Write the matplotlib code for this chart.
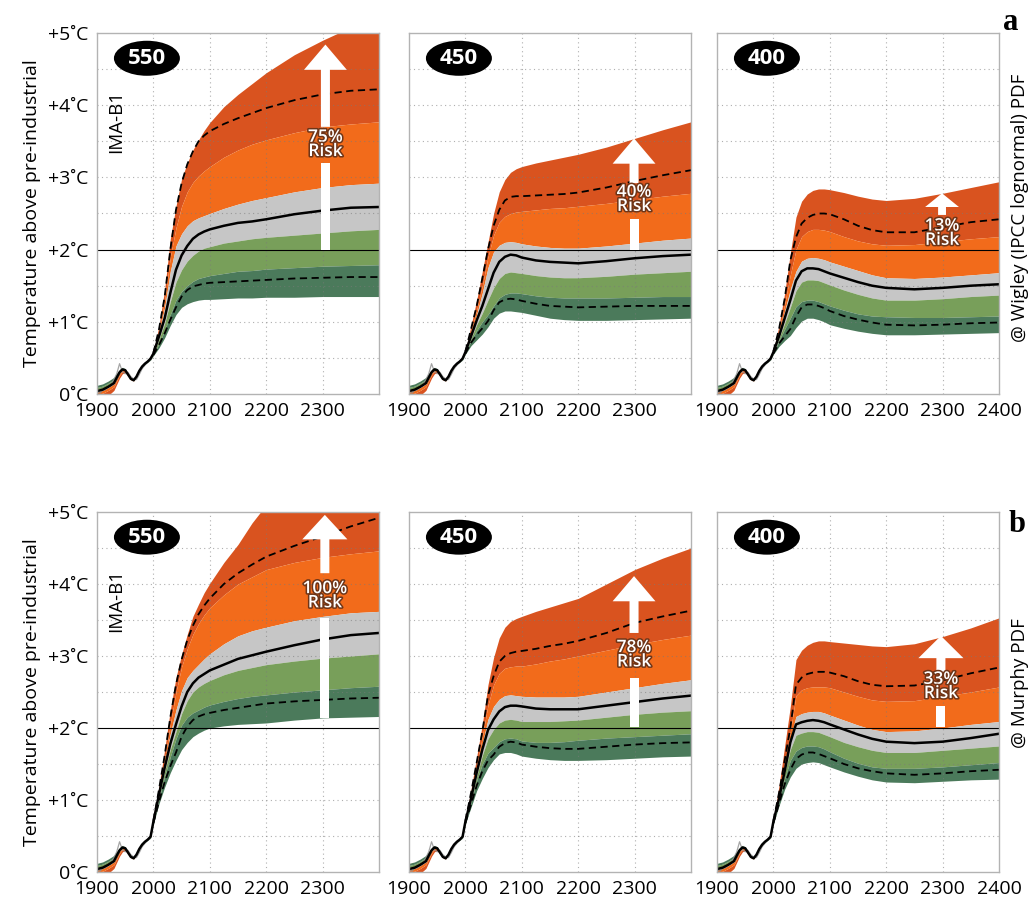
import matplotlib
matplotlib.use("Agg")
import matplotlib.pyplot as plt
import matplotlib.patheffects as pe
from matplotlib.patches import Ellipse, Polygon

# ---------------- data ----------------
HIST_YEARS = [1900, 1910, 1920, 1930, 1940, 1945, 1950, 1955, 1960, 1965, 1970, 1975, 1980, 1985, 1990, 1995]
HIST_MED = [0.04, 0.06, 0.10, 0.15, 0.30, 0.34, 0.33, 0.27, 0.21, 0.19, 0.24, 0.32, 0.38, 0.42, 0.45, 0.49]
HIST_B0 = [0.12, 0.14, 0.18, 0.23, 0.34, 0.37, 0.35, 0.29, 0.23, 0.21, 0.25, 0.32, 0.37, 0.41, 0.44, 0.47]
HIST_B1 = [0.09, 0.11, 0.15, 0.20, 0.33, 0.36, 0.34, 0.28, 0.22, 0.20, 0.245, 0.32, 0.375, 0.415, 0.445, 0.48]
HIST_B2 = [0.06, 0.08, 0.12, 0.17, 0.31, 0.35, 0.335, 0.275, 0.215, 0.195, 0.24, 0.32, 0.38, 0.42, 0.45, 0.485]
HIST_B3 = [0.03, 0.05, 0.09, 0.14, 0.29, 0.33, 0.325, 0.265, 0.205, 0.185, 0.235, 0.32, 0.385, 0.425, 0.455, 0.49]
HIST_B4 = [0.00, 0.01, 0.05, 0.10, 0.26, 0.31, 0.315, 0.26, 0.20, 0.18, 0.235, 0.32, 0.39, 0.43, 0.46, 0.50]
HIST_B5 = [-0.06, -0.05, -0.02, 0.05, 0.22, 0.28, 0.30, 0.25, 0.195, 0.18, 0.235, 0.325, 0.395, 0.435, 0.465, 0.51]

OBS_YEARS = [1900, 1905, 1910, 1915, 1920, 1925, 1930, 1935, 1940, 1945, 1950, 1955, 1960, 1965, 1970, 1975, 1980, 1985, 1990, 1995]
OBS_T = [0.03, 0.01, 0.05, 0.06, 0.10, 0.13, 0.20, 0.28, 0.42, 0.31, 0.28, 0.30, 0.24, 0.21, 0.20, 0.27, 0.35, 0.40, 0.45, 0.50]

YEARS = [2000, 2010, 2020, 2030, 2040, 2050, 2060, 2070, 2080, 2090, 2100,
         2125, 2150, 2175, 2200, 2250, 2300, 2350, 2400]

# Wigley (IPCC lognormal) PDF
A550 = dict(
    b5=[0.58, 0.95, 1.45, 2.15, 2.60, 2.98, 3.20, 3.38, 3.52, 3.65, 3.76, 3.98, 4.15, 4.30, 4.45, 4.70, 4.90, 5.08, 5.25],
    dhi=[0.57, 0.90, 1.35, 2.00, 2.55, 2.92, 3.18, 3.36, 3.50, 3.58, 3.64, 3.74, 3.82, 3.89, 3.96, 4.07, 4.15, 4.20, 4.22],
    b4=[0.57, 0.88, 1.30, 1.90, 2.30, 2.60, 2.80, 2.93, 3.02, 3.09, 3.15, 3.28, 3.38, 3.46, 3.52, 3.62, 3.70, 3.74, 3.77],
    b3=[0.56, 0.84, 1.20, 1.70, 2.05, 2.22, 2.33, 2.40, 2.44, 2.47, 2.50, 2.57, 2.63, 2.68, 2.72, 2.80, 2.86, 2.90, 2.92],
    med=[0.56, 0.80, 1.05, 1.40, 1.72, 1.92, 2.05, 2.15, 2.21, 2.25, 2.28, 2.33, 2.37, 2.39, 2.42, 2.49, 2.54, 2.58, 2.59],
    b2=[0.55, 0.76, 0.98, 1.28, 1.55, 1.72, 1.84, 1.92, 1.98, 2.02, 2.04, 2.09, 2.12, 2.15, 2.17, 2.20, 2.23, 2.26, 2.28],
    b1=[0.54, 0.70, 0.88, 1.10, 1.30, 1.42, 1.50, 1.56, 1.60, 1.62, 1.64, 1.67, 1.70, 1.71, 1.73, 1.75, 1.77, 1.78, 1.79],
    dlo=[0.54, 0.68, 0.84, 1.03, 1.20, 1.35, 1.44, 1.49, 1.51, 1.53, 1.54, 1.55, 1.56, 1.57, 1.58, 1.60, 1.61, 1.62, 1.62],
    b0=[0.53, 0.64, 0.78, 0.95, 1.10, 1.20, 1.25, 1.28, 1.30, 1.31, 1.31, 1.32, 1.33, 1.33, 1.34, 1.34, 1.35, 1.35, 1.35],
)
A450 = dict(
    b5=[0.60, 0.95, 1.30, 1.70, 2.10, 2.50, 2.80, 2.97, 3.07, 3.12, 3.15, 3.20, 3.24, 3.28, 3.32, 3.42, 3.54, 3.66, 3.77],
    dhi=[0.59, 0.90, 1.22, 1.60, 2.00, 2.33, 2.55, 2.68, 2.73, 2.74, 2.74, 2.75, 2.76, 2.77, 2.79, 2.86, 2.95, 3.03, 3.10],
    b4=[0.59, 0.88, 1.17, 1.50, 1.90, 2.20, 2.38, 2.46, 2.50, 2.52, 2.53, 2.55, 2.57, 2.58, 2.60, 2.64, 2.69, 2.74, 2.78],
    b3=[0.58, 0.84, 1.10, 1.40, 1.75, 1.97, 2.06, 2.10, 2.11, 2.10, 2.08, 2.05, 2.03, 2.02, 2.02, 2.05, 2.09, 2.13, 2.16],
    med=[0.58, 0.80, 1.02, 1.22, 1.45, 1.68, 1.83, 1.90, 1.93, 1.92, 1.89, 1.85, 1.83, 1.82, 1.81, 1.84, 1.88, 1.91, 1.93],
    b2=[0.57, 0.77, 0.96, 1.12, 1.30, 1.47, 1.60, 1.67, 1.69, 1.68, 1.67, 1.64, 1.62, 1.61, 1.61, 1.63, 1.66, 1.68, 1.70],
    b1=[0.56, 0.74, 0.88, 1.00, 1.10, 1.22, 1.33, 1.38, 1.40, 1.40, 1.39, 1.36, 1.34, 1.33, 1.33, 1.33, 1.34, 1.35, 1.35],
    dlo=[0.56, 0.71, 0.82, 0.91, 1.01, 1.16, 1.27, 1.31, 1.32, 1.31, 1.29, 1.25, 1.22, 1.21, 1.20, 1.21, 1.22, 1.22, 1.22],
    b0=[0.55, 0.67, 0.75, 0.83, 0.93, 1.05, 1.12, 1.15, 1.15, 1.14, 1.13, 1.09, 1.05, 1.03, 1.02, 1.02, 1.03, 1.04, 1.05],
)
A400 = dict(
    b5=[0.60, 0.95, 1.40, 1.95, 2.45, 2.67, 2.77, 2.82, 2.84, 2.84, 2.83, 2.79, 2.74, 2.70, 2.68, 2.71, 2.78, 2.86, 2.94],
    dhi=[0.59, 0.90, 1.32, 1.85, 2.17, 2.36, 2.44, 2.48, 2.50, 2.50, 2.49, 2.42, 2.33, 2.27, 2.24, 2.24, 2.31, 2.38, 2.42],
    b4=[0.59, 0.88, 1.25, 1.65, 2.00, 2.18, 2.25, 2.28, 2.28, 2.27, 2.25, 2.18, 2.12, 2.08, 2.06, 2.07, 2.11, 2.15, 2.18],
    b3=[0.58, 0.84, 1.15, 1.45, 1.70, 1.84, 1.88, 1.89, 1.88, 1.86, 1.83, 1.77, 1.71, 1.65, 1.61, 1.60, 1.62, 1.65, 1.68],
    med=[0.58, 0.80, 1.05, 1.30, 1.57, 1.70, 1.74, 1.74, 1.73, 1.70, 1.67, 1.61, 1.55, 1.50, 1.47, 1.45, 1.47, 1.50, 1.52],
    b2=[0.57, 0.77, 0.98, 1.20, 1.43, 1.55, 1.58, 1.58, 1.57, 1.54, 1.51, 1.44, 1.38, 1.33, 1.30, 1.30, 1.32, 1.35, 1.37],
    b1=[0.56, 0.74, 0.90, 1.05, 1.21, 1.28, 1.30, 1.30, 1.28, 1.25, 1.22, 1.16, 1.11, 1.08, 1.07, 1.06, 1.06, 1.07, 1.08],
    dlo=[0.56, 0.70, 0.80, 0.90, 1.07, 1.20, 1.24, 1.24, 1.22, 1.19, 1.15, 1.08, 1.03, 0.99, 0.96, 0.95, 0.96, 0.98, 0.99],
    b0=[0.55, 0.66, 0.74, 0.81, 0.92, 1.01, 1.05, 1.05, 1.03, 1.00, 0.96, 0.91, 0.87, 0.84, 0.82, 0.82, 0.83, 0.84, 0.85],
)
# Murphy PDF
B550 = dict(
    b5=[0.72, 1.20, 1.70, 2.25, 2.70, 3.02, 3.30, 3.55, 3.72, 3.88, 4.01, 4.30, 4.55, 4.85, 5.10, 5.50, 5.80, 6.00, 6.20],
    dhi=[0.71, 1.15, 1.62, 2.15, 2.60, 2.95, 3.22, 3.42, 3.58, 3.70, 3.80, 4.00, 4.15, 4.27, 4.38, 4.53, 4.66, 4.80, 4.92],
    b4=[0.71, 1.12, 1.58, 2.05, 2.50, 2.85, 3.10, 3.30, 3.45, 3.57, 3.67, 3.85, 4.00, 4.10, 4.20, 4.30, 4.37, 4.42, 4.46],
    b3=[0.70, 1.10, 1.52, 1.92, 2.25, 2.52, 2.70, 2.80, 2.88, 2.96, 3.03, 3.17, 3.28, 3.35, 3.40, 3.49, 3.55, 3.60, 3.62],
    med=[0.70, 1.08, 1.45, 1.78, 2.05, 2.30, 2.50, 2.62, 2.70, 2.75, 2.80, 2.88, 2.96, 3.01, 3.06, 3.15, 3.23, 3.29, 3.32],
    b2=[0.69, 1.05, 1.40, 1.70, 1.95, 2.20, 2.38, 2.50, 2.57, 2.62, 2.66, 2.74, 2.80, 2.84, 2.88, 2.93, 2.97, 3.00, 3.03],
    b1=[0.69, 1.02, 1.33, 1.60, 1.85, 2.04, 2.15, 2.21, 2.25, 2.29, 2.32, 2.37, 2.41, 2.44, 2.46, 2.50, 2.53, 2.56, 2.58],
    dlo=[0.68, 0.98, 1.25, 1.47, 1.66, 1.88, 2.02, 2.11, 2.16, 2.19, 2.21, 2.25, 2.28, 2.31, 2.34, 2.37, 2.39, 2.41, 2.42],
    b0=[0.67, 0.95, 1.18, 1.38, 1.55, 1.70, 1.80, 1.88, 1.93, 1.97, 2.00, 2.03, 2.05, 2.06, 2.07, 2.11, 2.14, 2.15, 2.16],
)
B450 = dict(
    b5=[0.72, 1.15, 1.60, 2.05, 2.60, 2.98, 3.25, 3.40, 3.48, 3.52, 3.55, 3.62, 3.68, 3.74, 3.80, 4.00, 4.20, 4.36, 4.50],
    dhi=[0.71, 1.10, 1.52, 1.95, 2.45, 2.72, 2.92, 3.00, 3.04, 3.06, 3.07, 3.10, 3.14, 3.17, 3.21, 3.32, 3.46, 3.55, 3.63],
    b4=[0.71, 1.08, 1.48, 1.88, 2.32, 2.60, 2.76, 2.83, 2.85, 2.86, 2.86, 2.89, 2.93, 2.96, 3.00, 3.08, 3.16, 3.23, 3.29],
    b3=[0.70, 1.05, 1.42, 1.78, 2.12, 2.30, 2.40, 2.45, 2.46, 2.45, 2.44, 2.43, 2.43, 2.43, 2.44, 2.50, 2.56, 2.62, 2.67],
    med=[0.70, 1.02, 1.38, 1.70, 1.97, 2.12, 2.23, 2.29, 2.31, 2.31, 2.30, 2.27, 2.26, 2.26, 2.26, 2.31, 2.36, 2.41, 2.45],
    b2=[0.69, 1.00, 1.33, 1.62, 1.85, 1.98, 2.07, 2.11, 2.12, 2.11, 2.09, 2.09, 2.09, 2.10, 2.11, 2.15, 2.19, 2.22, 2.24],
    b1=[0.69, 0.97, 1.27, 1.50, 1.65, 1.73, 1.81, 1.85, 1.86, 1.85, 1.82, 1.80, 1.80, 1.81, 1.83, 1.86, 1.88, 1.90, 1.92],
    dlo=[0.68, 0.94, 1.20, 1.40, 1.55, 1.63, 1.74, 1.79, 1.81, 1.80, 1.77, 1.74, 1.72, 1.71, 1.71, 1.74, 1.77, 1.79, 1.80],
    b0=[0.67, 0.90, 1.13, 1.30, 1.45, 1.56, 1.64, 1.66, 1.66, 1.64, 1.61, 1.58, 1.56, 1.55, 1.55, 1.56, 1.58, 1.60, 1.61],
)
B400 = dict(
    b5=[0.72, 1.20, 1.75, 2.30, 2.95, 3.08, 3.15, 3.19, 3.21, 3.21, 3.20, 3.18, 3.16, 3.14, 3.13, 3.17, 3.27, 3.39, 3.53],
    dhi=[0.71, 1.10, 1.55, 2.00, 2.60, 2.70, 2.75, 2.77, 2.78, 2.78, 2.77, 2.72, 2.65, 2.60, 2.58, 2.59, 2.66, 2.76, 2.84],
    b4=[0.71, 1.08, 1.50, 1.95, 2.45, 2.53, 2.56, 2.57, 2.57, 2.57, 2.56, 2.50, 2.44, 2.39, 2.37, 2.38, 2.44, 2.50, 2.57],
    b3=[0.70, 1.05, 1.45, 1.85, 2.16, 2.20, 2.22, 2.23, 2.23, 2.21, 2.18, 2.11, 2.04, 1.98, 1.95, 1.96, 2.00, 2.05, 2.09],
    med=[0.70, 1.02, 1.40, 1.80, 2.05, 2.08, 2.10, 2.11, 2.10, 2.08, 2.05, 1.98, 1.91, 1.85, 1.81, 1.79, 1.81, 1.86, 1.92],
    b2=[0.69, 1.00, 1.38, 1.70, 1.90, 1.93, 1.95, 1.95, 1.94, 1.91, 1.88, 1.80, 1.74, 1.69, 1.66, 1.66, 1.69, 1.72, 1.75],
    b1=[0.69, 0.98, 1.30, 1.55, 1.68, 1.73, 1.75, 1.75, 1.74, 1.71, 1.67, 1.58, 1.51, 1.46, 1.44, 1.44, 1.46, 1.49, 1.52],
    dlo=[0.68, 0.95, 1.22, 1.42, 1.57, 1.63, 1.66, 1.66, 1.64, 1.61, 1.58, 1.50, 1.44, 1.40, 1.37, 1.35, 1.37, 1.40, 1.42],
    b0=[0.67, 0.92, 1.15, 1.32, 1.44, 1.50, 1.52, 1.53, 1.52, 1.49, 1.46, 1.39, 1.33, 1.28, 1.25, 1.24, 1.26, 1.28, 1.29],
)

PANEL_DATA = [[A550, A450, A400], [B550, B450, B400]]
STAB_LABELS = ["550", "450", "400"]
RISK_LABELS = [["75%", "40%", "13%"], ["100%", "78%", "33%"]]
ROW_LETTERS = ["a", "b"]
ROW_NOTES = ["@ Wigley (IPCC lognormal) PDF", "@ Murphy PDF"]
Y_TICKS = [0, 1, 2, 3, 4, 5]
Y_TICK_LABELS = ["0\u02daC", "+1\u02daC", "+2\u02daC", "+3\u02daC", "+4\u02daC", "+5\u02daC"]

# arrow geometry (x year, shaft base, gap low, gap high, head base, tip, text y, head half-width, shaft half-width)
ARROWS = [
    [(2305, 2.00, 3.20, 3.70, 4.49, 4.84, 3.45, 38, 8),
     (2299, 2.00, 2.43, 2.92, 3.19, 3.54, 2.69, 38, 8),
     (2299, None, None, 2.48, 2.59, 2.78, 2.22, 30, 7)],
    [(2304, 2.14, 3.53, 4.15, 4.62, 4.96, 3.83, 40, 8),
     (2299, 2.02, 2.70, 3.32, 3.76, 4.11, 3.01, 38, 8),
     (2297, 2.01, 2.30, 2.77, 2.97, 3.28, 2.57, 40, 8)],
]

# ---------------- style ----------------
COL = dict(b45="#d9531f", b34="#f26b1b", b23="#c6c6c6", b12="#789f5a", b01="#4b7a5b")
FONT = ["Open Sans", "DejaVu Sans"]
TICK_SIZE = 14

W, H = 1029, 901
fig = plt.figure(figsize=(W / 100, H / 100), dpi=100)
LEFTS = [97, 409, 717]
ROWS = [(33, 394), (512, 872)]
AXW = 282

for r, (top, bot) in enumerate(ROWS):
    for c, left in enumerate(LEFTS):
        ax = fig.add_axes([left / W, 1 - bot / H, AXW / W, (bot - top) / H])
        d = PANEL_DATA[r][c]
        X = HIST_YEARS + YEARS
        B = [HIST_B0 + d["b0"], HIST_B1 + d["b1"], HIST_B2 + d["b2"],
             HIST_B3 + d["b3"], HIST_B4 + d["b4"], HIST_B5 + d["b5"]]
        keys = ["b01", "b12", "b23", "b34", "b45"]
        for i in range(4, -1, -1):
            ax.fill_between(X, B[i], B[i + 1], color=COL[keys[i]], lw=0, zorder=2)
        ax.plot(OBS_YEARS, OBS_T, color="#8f8f8f", lw=0.9, alpha=0.8, zorder=3)
        ax.plot(X, HIST_MED + d["med"], color="black", lw=1.8, zorder=4)
        ax.plot(YEARS, d["dhi"], color="black", lw=1.3, ls=(0, (4, 2.5)), zorder=4)
        ax.plot(YEARS, d["dlo"], color="black", lw=1.3, ls=(0, (4, 2.5)), zorder=4)
        ax.axhline(2.0, color="black", lw=0.8, zorder=5)

        ax.set_xlim(1900, 2400)
        ax.set_ylim(0, 5)
        xt = [1900, 2000, 2100, 2200, 2300] + ([2400] if c == 2 else [])
        ax.set_xticks(xt)
        ax.set_xticklabels([str(v) for v in xt], family=FONT, fontsize=TICK_SIZE)
        ax.set_yticks(Y_TICKS)
        if c == 0:
            ax.set_yticklabels(Y_TICK_LABELS, family=FONT, fontsize=TICK_SIZE)
            ax.set_ylabel("Temperature above pre-industrial", family=FONT,
                          fontsize=14, labelpad=5)
            ax.text(0.067, 0.755, "IMA-B1", transform=ax.transAxes, rotation=90,
                    ha="center", va="center", family=FONT, fontsize=13.5, zorder=7)
        else:
            ax.set_yticklabels([])
        ax.tick_params(which="both", length=0, pad=6, colors="black")
        for g in [2000, 2100, 2200, 2300]:
            ax.axvline(g, color="#7a7a7a", lw=0.8, ls=(0, (1, 3)), alpha=0.6, zorder=3)
        for g in [0.5, 1, 1.5, 2.5, 3, 3.5, 4, 4.5]:
            ax.axhline(g, color="#7a7a7a", lw=0.8, ls=(0, (1, 3)), alpha=0.6, zorder=3)
        for s in ax.spines.values():
            s.set_color("#b3b3b3")
            s.set_linewidth(1.0)
            s.set_zorder(8)

        # stabilisation label
        ax.add_patch(Ellipse((0.177, 0.93), 0.234, 0.097, transform=ax.transAxes,
                             facecolor="black", edgecolor="none", zorder=9, clip_on=False))
        ax.text(0.177, 0.928, STAB_LABELS[c], transform=ax.transAxes, ha="center", va="center",
                color="white", fontsize=16, fontweight="bold", family=FONT, zorder=10)

        # risk arrow
        xa, base, glo, ghi, hb, tip, ty, HW, hw = ARROWS[r][c]
        if base is not None:
            ax.add_patch(Polygon([(xa - hw, base), (xa + hw, base), (xa + hw, glo), (xa - hw, glo)],
                                 closed=True, facecolor="white", edgecolor="none", zorder=6))
        ax.add_patch(Polygon([(xa - hw, ghi), (xa + hw, ghi), (xa + hw, hb), (xa + HW, hb),
                              (xa, tip), (xa - HW, hb), (xa - hw, hb)],
                             closed=True, facecolor="white", edgecolor="none", zorder=6))
        ax.text(xa, ty, RISK_LABELS[r][c] + "\nRisk", ha="center", va="center", color="white",
                fontsize=12.5, fontweight="semibold", linespacing=0.85,
                family=FONT, zorder=7,
                path_effects=[pe.withStroke(linewidth=2.2, foreground="#6e3518")])

    fig.text((1011 if r == 0 else 1017) / W, 1 - (23 if r == 0 else 525) / H, ROW_LETTERS[r],
             ha="center", va="center", family=["Liberation Serif", "DejaVu Serif"],
             fontweight="bold", fontsize=22)
    fig.text(1011 / W, 1 - (208 if r == 0 else 683) / H, ROW_NOTES[r], rotation=90,
             ha="left", va="center", family=FONT, fontsize=13.5)

fig.savefig("out.png", dpi=100)
